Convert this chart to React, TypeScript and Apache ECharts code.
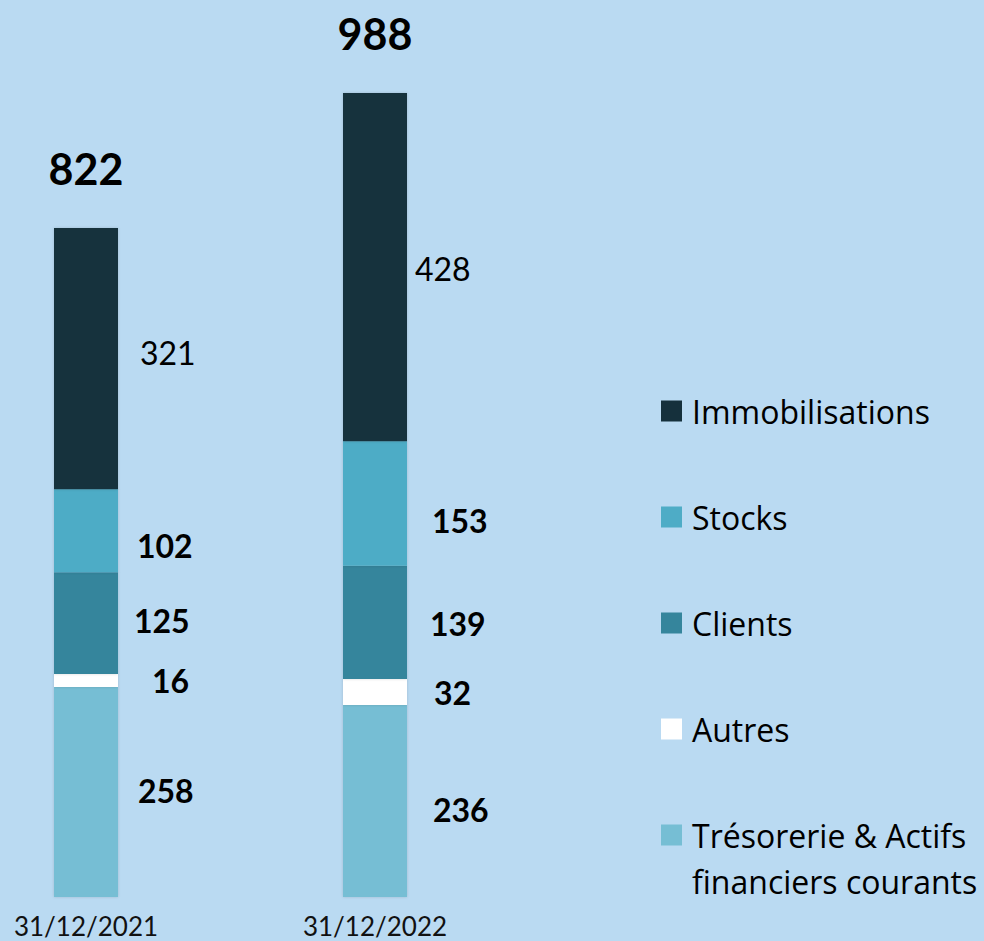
import React, { useEffect, useRef } from "react";
import * as echarts from "echarts";

const categories = ["31/12/2021", "31/12/2022"];
const tresorerie = [258, 236];
const autres = [16, 32];
const clients = [125, 139];
const stocks = [102, 153];
const immobilisations = [321, 428];

const seriesNames = {
  immo: "Immobilisations",
  stocks: "Stocks",
  clients: "Clients",
  autres: "Autres",
  treso: "Trésorerie & Actifs financiers courants",
};

// label offsets [dx, dy] per category (style only)
const offsets = {
  treso: [[20, -2], [26, 9]],
  autres: [[34, 0], [27, 1]],
  clients: [[16, -3], [23, 1]],
  stocks: [[19, 15], [25, 17]],
  immo: [[22, -6], [8, 1]],
};

const FONT = "Lato";
const LEGEND_FONT = "Open Sans";

export default function App() {
  const ref = useRef<HTMLDivElement>(null);
  useEffect(() => {
    document.body.style.margin = "0";
    const chart = echarts.init(ref.current!, null, { renderer: "svg" });
    const totals = categories.map(
      (_, i) => tresorerie[i] + autres[i] + clients[i] + stocks[i] + immobilisations[i]
    );
    const mk = (name: string, values: number[], color: string, off: number[][], bold: boolean) => ({
      name,
      type: "bar",
      stack: "total",
      barWidth: 64,
      clip: false,
      itemStyle: { color, shadowBlur: 3, shadowColor: "rgba(0,0,0,0.15)" },
      data: values.map((v, i) => ({
        value: v,
        label: { offset: off[i] },
      })),
      label: {
        show: true,
        position: "right",
        distance: 0,
        fontFamily: FONT,
        fontSize: 32,
        fontWeight: bold ? "bold" : "normal",
        color: "#000",
      },
    });
    chart.setOption({
      animation: false,
      backgroundColor: "#BADAF2",
      grid: { left: 86, right: 609, top: 93, bottom: 44, containLabel: false },
      xAxis: {
        type: "category",
        data: categories,
        boundaryGap: false,
        axisLine: { show: false },
        axisTick: { show: false },
        axisLabel: { fontFamily: FONT, fontSize: 26, color: "#111", margin: 16 },
      },
      yAxis: { type: "value", min: 0, max: 988, show: false, splitLine: { show: false } },
      legend: {
        orient: "vertical",
        left: 661,
        top: 395,
        padding: 0,
        itemWidth: 21,
        itemHeight: 21,
        itemGap: 74,
        icon: "rect",
        data: [seriesNames.immo, seriesNames.stocks, seriesNames.clients, seriesNames.autres, seriesNames.treso],
        formatter: (n: string) => (n === seriesNames.treso ? "Trésorerie & Actifs" : n),
        textStyle: { fontFamily: LEGEND_FONT, fontSize: 32, lineHeight: 32, color: "#000", padding: [0, 0, 0, 5] },
      },
      graphic: [
        {
          type: "text",
          left: 692,
          top: 865,
          style: { text: "financiers courants", fontFamily: LEGEND_FONT, fontSize: 32, fill: "#000" },
        },
      ],
      series: [
        mk(seriesNames.treso, tresorerie, "#76BED4", offsets.treso, true),
        mk(seriesNames.autres, autres, "#FFFFFF", offsets.autres, true),
        mk(seriesNames.clients, clients, "#35859C", offsets.clients, true),
        mk(seriesNames.stocks, stocks, "#4EACC6", offsets.stocks, true),
        mk(seriesNames.immo, immobilisations, "#15303C", offsets.immo, false),
        {
          name: "Total",
          type: "bar",
          stack: "total",
          barWidth: 64,
          clip: false,
          itemStyle: { color: "transparent" },
          data: categories.map(() => 0),
          label: {
            show: true,
            position: "top",
            distance: 38,
            fontFamily: FONT,
            fontSize: 43,
            fontWeight: "bold",
            color: "#000",
            formatter: (p: any) => String(totals[p.dataIndex]),
          },
        },
      ],
    });
    return () => chart.dispose();
  }, []);
  return <div ref={ref} style={{ position: "fixed", left: 0, top: 0, width: 984, height: 941 }} />;
}
